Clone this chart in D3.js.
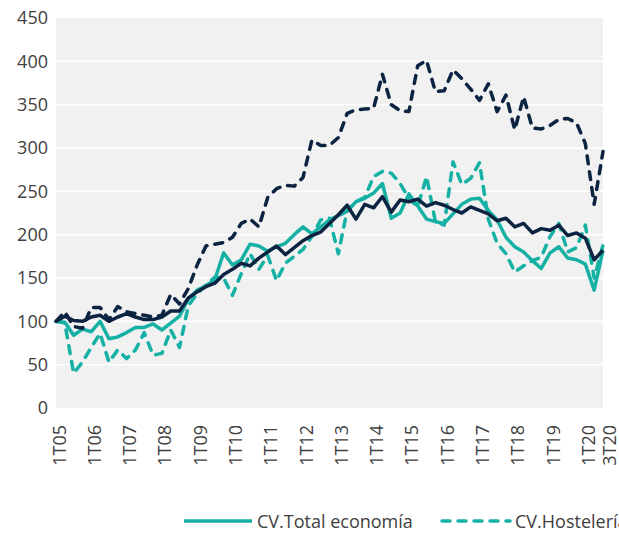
<!DOCTYPE html>
<html>
<head>
<meta charset="utf-8">
<script src="https://cdn.jsdelivr.net/npm/d3@7"></script>
<style>
  body { margin: 0; background: #ffffff; }
  svg { display: block; font-family: "Open Sans", sans-serif; }
</style>
</head>
<body>
<svg id="chart" width="619" height="533"></svg>
<script>
// Quarterly periods 1T05 .. 3T20
const years = ["05","06","07","08","09","10","11","12","13","14","15","16","17","18","19","20"];
const quarters = ["1T","2T","3T","4T"];
const periods = [];
years.forEach(y => quarters.forEach(q => periods.push(q + y)));
periods.splice(63);

// Labelled periods on the category axis
const tickLabels = ["1T05","1T06","1T07","1T08","1T09","1T10","1T11","1T12","1T13","1T14","1T15","1T16","1T17","1T18","1T19","1T20","3T20"];

// Index values (1T05 = 100)
const cvTotal = [100,99,84,91,88,100,80,82,87,93,93,97,90,98,106,126,136,141,148,179,165,171,189,187,181,186,190,200,209,201,209,217,222,227,238,242,248,259,219,225,247,233,218,215,213,224,235,241,242,228,217,197,186,180,170,161,179,186,173,171,166,136,182];
const cvHosteleria = [100,98,40,53,70,86,53,67,57,67,87,61,63,90,70,118,132,142,151,150,130,155,178,160,176,147,167,175,183,198,217,219,178,228,238,243,267,273,271,259,242,232,267,215,211,284,258,265,283,218,190,178,157,164,170,174,198,213,180,185,211,150,188];
const espTotal = [100,106,101,100,105,107,100,105,109,105,102,102,105,112,112,127,134,140,144,154,160,167,164,173,180,187,177,185,193,199,203,213,223,234,218,235,231,244,226,240,238,241,233,237,234,229,225,232,228,224,216,219,209,213,202,207,205,211,199,202,196,171,182];
const espHosteleria = [100,111,94,92,116,116,102,117,111,109,107,105,107,131,120,138,165,187,189,191,197,213,218,209,243,253,257,256,266,309,303,303,312,340,344,345,346,385,350,343,342,395,401,365,366,390,380,368,355,374,342,361,321,359,323,322,326,333,334,329,305,235,296];

const yTicks = [0,50,100,150,200,250,300,350,400,450];

const legendItems = [
  { name: "CV.Total economía", dashed: false },
  { name: "CV.Hostelería", dashed: true }
];

const teal = "#16b1a4";
const navy = "#0c2442";
const textColor = "#404040";
const fontSize = "18px";

const svg = d3.select("#chart");
const margin = { left: 56, right: 16, top: 18, bottom: 125 };
const W = 619, H = 533;

const x = d3.scaleLinear().domain([0, periods.length - 1]).range([margin.left, W - margin.right]);
const y = d3.scaleLinear().domain([0, 450]).range([H - margin.bottom, margin.top]);

// Plot background
svg.append("rect")
  .attr("x", margin.left).attr("y", margin.top)
  .attr("width", W - margin.right - margin.left)
  .attr("height", y(0) - margin.top)
  .attr("fill", "#f1f1f1");

// Horizontal gridlines
svg.append("g").selectAll("line")
  .data(yTicks.filter(t => t > 0 && t < 450))
  .join("line")
  .attr("x1", margin.left).attr("x2", W - margin.right)
  .attr("y1", d => y(d)).attr("y2", d => y(d))
  .attr("stroke", "#ffffff").attr("stroke-width", 1.5);

// Y axis
const yAxis = svg.append("g")
  .attr("transform", `translate(${margin.left},0)`)
  .call(d3.axisLeft(y).tickValues(yTicks).tickSize(0).tickPadding(8));
yAxis.select(".domain").remove();
yAxis.selectAll("text")
  .attr("fill", textColor)
  .style("font-size", fontSize)
  .style("font-family", "'Open Sans', sans-serif");

// X axis: rotated period labels
const tickIdx = tickLabels.map(l => periods.indexOf(l));
const xAxis = svg.append("g")
  .attr("transform", `translate(0,${y(0)})`)
  .call(d3.axisBottom(x).tickValues(tickIdx).tickFormat(i => periods[i]).tickSize(0));
xAxis.select(".domain").remove();
xAxis.selectAll("text")
  .attr("fill", textColor)
  .style("font-size", fontSize)
  .style("font-family", "'Open Sans', sans-serif")
  .attr("text-anchor", "end")
  .attr("dy", null)
  .attr("dominant-baseline", "central")
  .attr("transform", (d, k) => `translate(${k === tickIdx.length - 1 ? 5 : 2},17) rotate(-90)`)
  .attr("y", 0).attr("x", 0);

// Series lines
const line = d3.line()
  .defined(d => d != null)
  .x((d, i) => x(i))
  .y(d => y(d));

const series = [
  { values: cvTotal, color: teal, dashed: false },
  { values: cvHosteleria, color: teal, dashed: true },
  { values: espTotal, color: navy, dashed: false },
  { values: espHosteleria, color: navy, dashed: true }
];

svg.append("g").selectAll("path")
  .data(series)
  .join("path")
  .attr("d", s => line(s.values))
  .attr("fill", "none")
  .attr("stroke", s => s.color)
  .attr("stroke-width", 3.5)
  .attr("stroke-linejoin", "round")
  .attr("stroke-linecap", s => s.dashed ? "round" : "butt")
  .attr("stroke-dasharray", s => s.dashed ? "8,8" : null);

// Legend
const legend = svg.append("g").attr("transform", "translate(184,521)");
const lg = legend.selectAll("g")
  .data(legendItems)
  .join("g")
  .attr("transform", (d, i) => `translate(${i === 0 ? 0 : 258},0)`);
lg.append("line")
  .attr("x1", 0).attr("x2", 68).attr("y1", 0).attr("y2", 0)
  .attr("stroke", teal).attr("stroke-width", 3.5)
  .attr("stroke-linecap", d => d.dashed ? "round" : "butt")
  .attr("stroke-dasharray", d => d.dashed ? "8,8" : null);
lg.append("text")
  .attr("x", 73).attr("y", 0)
  .attr("dominant-baseline", "central")
  .attr("fill", textColor)
  .style("font-size", fontSize)
  .text(d => d.name);
</script>
</body>
</html>
